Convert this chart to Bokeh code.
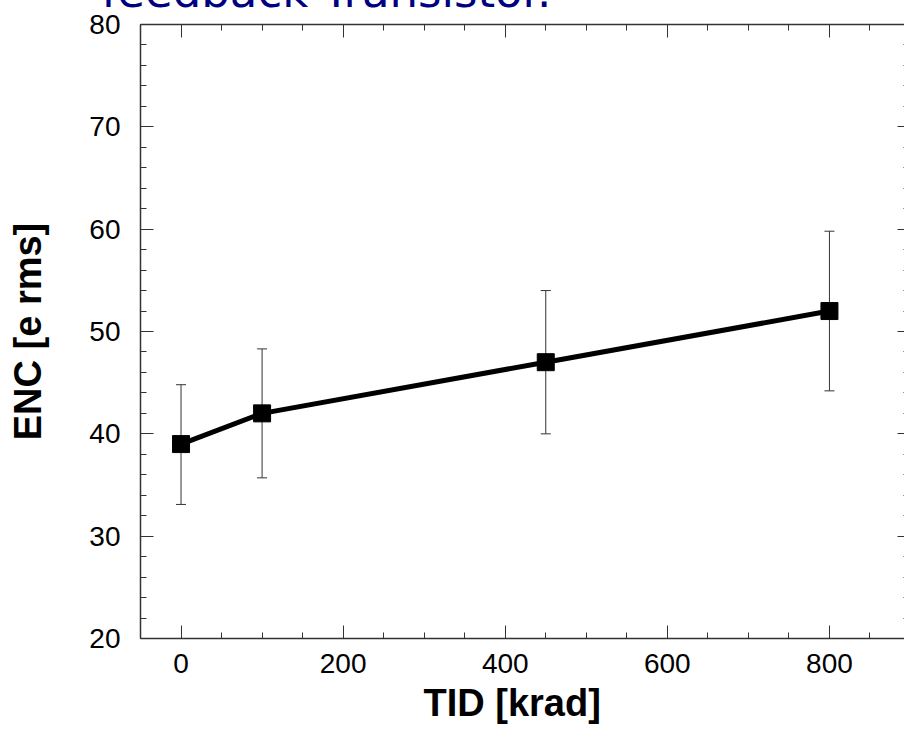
from bokeh.plotting import figure
from bokeh.models import (Range1d, LinearAxis, FixedTicker, Whisker, TeeHead,
                          ColumnDataSource, Title)
from bokeh.embed import file_html
from bokeh.resources import INLINE

# ---- data ----
tid = [0, 100, 450, 800]
enc = [39, 42, 47, 52]
err_low = [33.1, 35.7, 40.0, 44.2]
err_high = [44.8, 48.3, 54.0, 59.8]

x_major = [0, 200, 400, 600, 800]
x_minor = list(range(-50, 901, 50))
y_major = [20, 30, 40, 50, 60, 70, 80]
y_minor = list(range(20, 81, 2))

title_text = "feedback Transistor."
x_label = "TID [krad]"
y_label = "ENC [e rms]"

FONT = "Liberation Sans"
AX = "#333333"

# the reference's title is cut off by the top of the window: the canvas is
# shifted up so that only the lower part of the title shows
SHIFT = 60
p = figure(width=904, height=728 + SHIFT,
           x_range=Range1d(-50, 892.6), y_range=Range1d(20, 80),
           output_backend="svg", toolbar_location=None,
           min_border_left=140, min_border_right=0,
           min_border_top=24 + SHIFT, min_border_bottom=90,
           x_axis_location=None, y_axis_location=None)
p.styles = {"margin-top": f"-{SHIFT}px"}
p.xgrid.visible = False
p.ygrid.visible = False
p.outline_line_color = None
p.background_fill_color = "white"
p.border_fill_color = "white"


def style_axis(ax, labels=True, line=True):
    ax.major_tick_in = 13
    ax.major_tick_out = 0
    ax.minor_tick_in = 6
    ax.minor_tick_out = 0
    ax.major_tick_line_color = AX
    ax.minor_tick_line_color = AX
    ax.major_tick_line_width = 1
    ax.minor_tick_line_width = 1
    ax.axis_line_color = AX if line else None
    ax.axis_line_width = 1.5
    ax.major_label_text_font = FONT
    ax.major_label_text_font_size = "28px"
    ax.major_label_text_color = "black" if labels else None


xt = FixedTicker(ticks=x_major, minor_ticks=x_minor)
yt = FixedTicker(ticks=y_major, minor_ticks=y_minor)

bottom = LinearAxis(ticker=xt)
style_axis(bottom)
bottom.major_label_standoff = 15
p.add_layout(bottom, "below")

top = LinearAxis(ticker=xt)
style_axis(top, labels=False)
top.major_label_text_font_size = "0px"
top.major_label_standoff = 0
p.add_layout(top, "above")

left = LinearAxis(ticker=yt, axis_label=y_label)
style_axis(left)
left.major_label_standoff = 20
left.axis_label_text_font = FONT
left.axis_label_text_font_style = "bold"
left.axis_label_text_font_size = "38px"
left.axis_label_text_color = "black"
left.axis_label_standoff = 37
p.add_layout(left, "left")

right = LinearAxis(ticker=yt)
style_axis(right, labels=False, line=False)
right.major_label_text_font_size = "0px"
right.major_tick_in = 7
right.minor_tick_in = 1
p.add_layout(right, "right")

src = ColumnDataSource(data=dict(x=tid, y=enc, lo=err_low, hi=err_high))

wh = Whisker(base="x", lower="lo", upper="hi", source=src, dimension="height",
             line_color=AX, line_width=1,
             lower_head=TeeHead(size=10, line_color=AX, line_width=1),
             upper_head=TeeHead(size=10, line_color=AX, line_width=1))
p.add_layout(wh)

p.line("x", "y", source=src, line_width=5, line_color="black")
p.scatter("x", "y", source=src, marker="square", size=17,
          fill_color="black", line_color="black")

p.add_layout(Title(text=title_text, align="left", offset=-39, standoff=14,
                   text_color="#000080", text_font="DejaVu Sans",
                   text_font_size="45px", text_font_style="normal"), "above")
p.add_layout(Title(text=x_label, align="left", offset=283, standoff=9,
                   text_color="black", text_font=FONT,
                   text_font_style="bold", text_font_size="38px"), "below")

open("out.html", "w").write(file_html(p, INLINE))
